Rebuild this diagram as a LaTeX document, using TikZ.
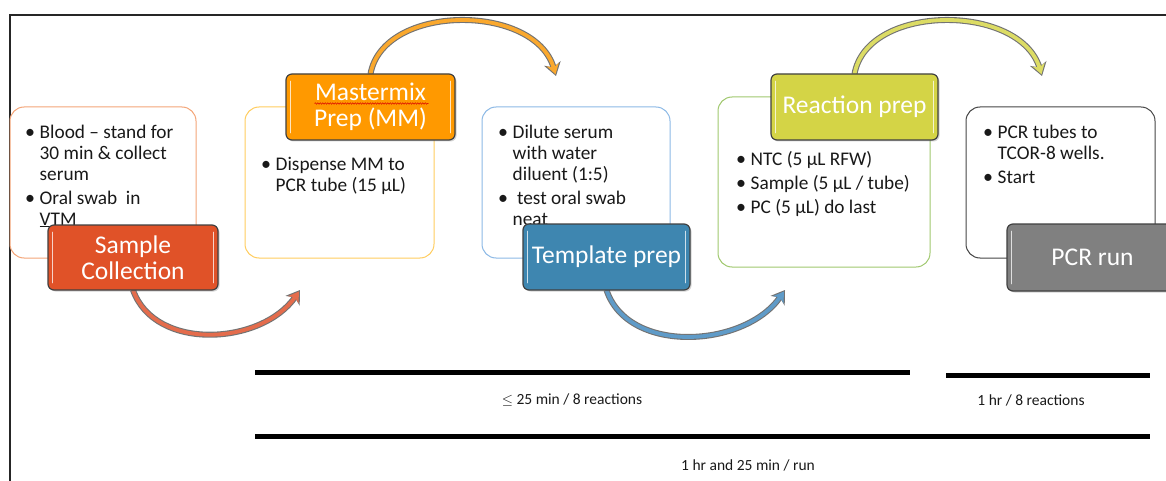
\documentclass[tikz,border=0pt]{standalone}
\usepackage{fontspec}
\setmainfont{Carlito}
\newfontfamily\liningfont{Carlito}
\usetikzlibrary{arrows.meta,shadows,decorations.pathmorphing}

% step colours
\definecolor{scfill}{RGB}{224,82,40}
\definecolor{scline}{RGB}{244,165,120}
\definecolor{scarc}{RGB}{228,108,76}
\definecolor{mmfill}{RGB}{255,153,0}
\definecolor{mmline}{RGB}{255,205,95}
\definecolor{mmarc}{RGB}{250,168,45}
\definecolor{tpfill}{RGB}{62,134,176}
\definecolor{tpline}{RGB}{140,185,230}
\definecolor{tparc}{RGB}{95,155,200}
\definecolor{rpfill}{RGB}{212,212,70}
\definecolor{rpline}{RGB}{160,200,110}
\definecolor{rparc}{RGB}{220,220,100}
\definecolor{pcfill}{RGB}{128,128,128}
\definecolor{pcline}{RGB}{70,70,70}

\newcommand\bi{\makebox[13.5pt][l]{\hspace*{-1pt}\fontsize{20}{21}\selectfont •}}
\newcommand\ci{\hspace*{13.5pt}}
\newcommand\topstrut{\rule{0pt}{16pt}}

\tikzset{
  textbox/.style={draw, line width=1pt, rounded corners=14pt, fill=white, inner sep=0pt},
  stepbox/.style={draw=black!75, line width=1.2pt, rounded corners=6pt, text=white,
    font=\fontsize{25.5}{25.5}\selectfont, align=center, inner sep=0pt,
    drop shadow={shadow xshift=1.5pt, shadow yshift=-1.5pt, opacity=0.35}},
  gloss/.style={draw=white, opacity=0.75, line width=1.6pt, line cap=round},
  bodytext/.style={anchor=north west, inner sep=0pt, align=left,
    font=\fontsize{19.3}{21}\selectfont, text=black!90},
  arcedge/.style={line width=6pt, draw=black!55, -{Stealth[length=13pt,width=17pt,inset=4pt]}},
  arcbody/.style={line width=3.8pt, shorten >=1.8pt, -{Stealth[length=10pt,width=12.5pt,inset=3pt]}},
  timebar/.style={line width=5pt, draw=black},
  note/.style={font=\liningfont\fontsize{15.5}{17}\selectfont, text=black!90, inner sep=0pt},
}

\begin{document}
\begin{tikzpicture}[x=1pt,y=-1pt]
\useasboundingbox (0,0) rectangle (1166,481);

% outer frame
\coordinate (fbl) at (10,481);
\coordinate (ftl) at (10,15);
\coordinate (ftr) at (1166,15);
\draw[line width=1.5pt, black!85] (fbl) -- (ftl) -- (ftr);

% text panels
\node[textbox, draw=scline, minimum width=186pt, minimum height=151pt] (sbox) at (103,182.5) {};
\node[textbox, draw=mmline, minimum width=189pt, minimum height=151pt] (mbox) at (339.5,182.5) {};
\node[textbox, draw=tpline, minimum width=188pt, minimum height=151pt] (tbox) at (576,182.5) {};
\node[textbox, draw=rpline, minimum width=212pt, minimum height=170pt] (rbox) at (824,182) {};
\node[textbox, draw=pcline, minimum width=189pt, minimum height=151pt] (pbox) at (1060.5,182.5) {};

\node[bodytext] (stext) at (26,122) {\topstrut\bi Blood -- stand for\\ \ci 30 min \& collect\\ \ci serum\\[3pt]
  \bi Oral swab\ \ in\\ \ci \underline{VTM}};
\node[bodytext] (mtext) at (262,154) {\topstrut\bi Dispense MM to\\ \ci PCR tube (15 µL)};
\node[bodytext] (ttext) at (499,122) {\topstrut\bi Dilute serum\\ \ci with water\\ \ci diluent (1:5)\\[3pt]
  \bi \ test oral swab\\ \ci neat};
\node[bodytext] (rtext) at (737,149) {\topstrut\bi NTC (5 µL RFW)\\[3pt] \bi Sample (5 µL / tube)\\[3pt] \bi PC (5 µL) do last};
\node[bodytext] (ptext) at (984,122) {\topstrut\bi PCR tubes to\\ \ci TCOR-8 wells.\\[3pt] \bi Start};

% step label positions (needed by the arcs)
\coordinate (scpos) at (133,257.5);
\coordinate (mmpos) at (370.5,107);
\coordinate (tppos) at (606.5,257);
\coordinate (rppos) at (854.5,107);
\coordinate (pcpos) at (1092.5,257.5);

% arcs from one step to the next
\coordinate (sctop) at (133,290);
\coordinate (a1) at (300,290);
\coordinate (mmtop) at (370.5,74);
\coordinate (a2) at (556,76);
\coordinate (tptop) at (606.5,290);
\coordinate (a3) at (785,290);
\coordinate (rptop) at (854.5,74);
\coordinate (a4) at (1042,76);

\draw[arcedge] (sctop) .. controls (155,352) and (262,345) .. (a1);
\draw[arcbody, draw=scarc] (sctop) .. controls (155,352) and (262,345) .. (a1);
\draw[arcedge] (mmtop) .. controls (383,3) and (535,3) .. (a2);
\draw[arcbody, draw=mmarc] (mmtop) .. controls (383,3) and (535,3) .. (a2);
\draw[arcedge] (tptop) .. controls (628,355) and (745,348) .. (a3);
\draw[arcbody, draw=tparc] (tptop) .. controls (628,355) and (745,348) .. (a3);
\draw[arcedge] (rptop) .. controls (867,3) and (1020,3) .. (a4);
\draw[arcbody, draw=rparc] (rptop) .. controls (867,3) and (1020,3) .. (a4);

% step labels
\node[stepbox, fill=scfill, minimum width=170pt, minimum height=65pt] (sc) at (scpos) {Sample\\Collection};
\node[stepbox, fill=mmfill, minimum width=169pt, minimum height=66pt] (mm) at (mmpos) {Mastermix\\Prep (MM)};
\node[stepbox, fill=tpfill, minimum width=167pt, minimum height=66pt] (tp) at (tppos) {Template prep};
\node[stepbox, fill=rpfill, minimum width=167pt, minimum height=66pt] (rp) at (rppos) {Reaction prep};
\node[stepbox, fill=pcfill, minimum width=171pt, minimum height=67pt] (pc) at (pcpos) {PCR run};

\foreach \n in {sc,mm,tp,rp,pc}{
  \draw[gloss] ([shift={(5pt,-8pt)}]\n.north west) -- ([shift={(5pt,8pt)}]\n.south west);
  \draw[gloss] ([shift={(-5pt,-8pt)}]\n.north east) -- ([shift={(-5pt,8pt)}]\n.south east);
}

% spelling mark under "Mastermix"
\coordinate (sq1) at ([shift={(-56pt,3.5pt)}]mm.center);
\coordinate (sq2) at ([shift={(58pt,3.5pt)}]mm.center);
\draw[red!85!black, line width=0.5pt, decorate, decoration={snake, amplitude=0.7pt, segment length=2.5pt}] (sq1) -- (sq2);

% time bars
\coordinate (b1a) at (255,372);
\coordinate (b1b) at (910,372);
\coordinate (b2a) at (946,375);
\coordinate (b2b) at (1150,375);
\coordinate (b3a) at (255,436);
\coordinate (b3b) at (1150,436);
\draw[timebar] (b1a) -- (b1b);
\draw[timebar] (b2a) -- (b2b);
\draw[timebar] (b3a) -- (b3b);

\node[note] (n1) at (572,400) {$\le$ 25 min / 8 reactions};
\node[note] (n2) at (1031,400) {1 hr / 8 reactions};
\node[note] (n3) at (748,465) {1 hr and 25 min / run};
\end{tikzpicture}
\end{document}
